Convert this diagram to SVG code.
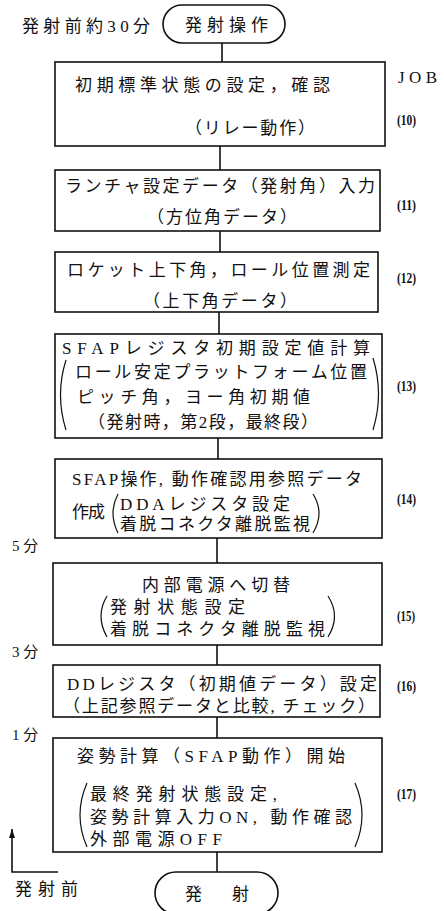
<svg xmlns="http://www.w3.org/2000/svg" width="444" height="911" viewBox="0 0 444 911">
<style>
.box{fill:#fff;stroke:#111;stroke-width:1.6}
.t{font-family:"Liberation Serif","Noto Sans CJK JP",serif;font-size:17px;fill:#111}
.s{font-family:"Liberation Serif","Noto Sans CJK JP",serif;font-size:15px;fill:#111}
.n{font-family:"Liberation Serif","Noto Sans CJK JP",serif;font-size:15px;font-weight:bold;fill:#111}
.p{fill:none;stroke:#111;stroke-width:1.2}
.c{fill:none;stroke:#111;stroke-width:1.6}
</style>
<defs>
<marker id="ah" markerWidth="10" markerHeight="10" refX="9" refY="3" orient="auto" markerUnits="userSpaceOnUse">
<path d="M0,0 L9,3 L0,6 Z" fill="#111"/>
</marker>
</defs>
<g id="connectors">
<line class="c" x1="222" y1="43" x2="222" y2="62"/>
<line class="c" x1="220" y1="146" x2="220" y2="170"/>
<line class="c" x1="220" y1="231" x2="220" y2="252"/>
<line class="c" x1="219" y1="312" x2="219" y2="334"/>
<line class="c" x1="218" y1="438" x2="218" y2="459"/>
<line class="c" x1="217" y1="538" x2="217" y2="563"/>
<line class="c" x1="217" y1="645" x2="217" y2="665"/>
<line class="c" x1="217" y1="717" x2="217" y2="738"/>
<line class="c" x1="217" y1="852" x2="217" y2="872"/>
<path class="c" d="M58,872 L12,872 L12,829" marker-end="url(#ah)"/>
</g>
<g id="labels">
<text class="t" x="22" y="32" textLength="128">発射前約30分</text>
<text class="t" x="398" y="83" textLength="39">JOB</text>
<text class="s" x="12" y="551">5 分</text>
<text class="s" x="12" y="657">3 分</text>
<text class="s" x="12" y="740">1 分</text>
<text class="t" x="15" y="895" textLength="63">発射前</text>
</g>
<g id="start">
<rect class="box" x="163" y="5" width="122" height="38" rx="19"/>
<text class="t" x="185" y="31" textLength="83">発射操作</text>
</g>
<g id="job10">
<rect class="box" x="55" y="62" width="330" height="84"/>
<text class="t" x="75" y="91" textLength="255">初期標準状態の設定，確認</text>
<text class="t" x="185" y="134" textLength="130">（リレー動作）</text>
<text class="n" x="397" y="125" textLength="19" lengthAdjust="spacingAndGlyphs">(10)</text>
</g>
<g id="job11">
<rect class="box" x="55" y="170" width="325" height="61"/>
<text class="t" x="65" y="192" textLength="310">ランチャ設定データ（発射角）入力</text>
<text class="t" x="147" y="223" textLength="150">（方位角データ）</text>
<text class="n" x="397" y="210" textLength="19" lengthAdjust="spacingAndGlyphs">(11)</text>
</g>
<g id="job12">
<rect class="box" x="55" y="252" width="323" height="60"/>
<text class="t" x="67" y="276" textLength="303">ロケット上下角，ロール位置測定</text>
<text class="t" x="143" y="307" textLength="154">（上下角データ）</text>
<text class="n" x="397" y="283" textLength="19" lengthAdjust="spacingAndGlyphs">(12)</text>
</g>
<g id="job13">
<rect class="box" x="55" y="334" width="327" height="104"/>
<text class="t" x="62" y="354" textLength="308">SFAPレジスタ初期設定値計算</text>
<path class="p" d="M66,360 Q55,395 66,430"/>
<text class="t" x="75" y="378" textLength="292">ロール安定プラットフォーム位置</text>
<path class="p" d="M373,358 Q384,394 373,430"/>
<text class="t" x="77" y="403" textLength="233">ピッチ角，ヨー角初期値</text>
<text class="t" x="88" y="428" textLength="230">（発射時，第2段，最終段）</text>
<text class="n" x="397" y="391" textLength="19" lengthAdjust="spacingAndGlyphs">(13)</text>
</g>
<g id="job14">
<rect class="box" x="55" y="459" width="327" height="79"/>
<text class="t" x="72" y="485" textLength="290">SFAP操作, 動作確認用参照データ</text>
<text class="t" x="72" y="518" textLength="33">作成</text>
<path class="p" d="M118,494 Q108,513 118,533"/>
<text class="t" x="120" y="510" textLength="170">DDAレジスタ設定</text>
<text class="t" x="120" y="530" textLength="190">着脱コネクタ離脱監視</text>
<path class="p" d="M313,494 Q325,513 313,533"/>
<text class="n" x="397" y="504" textLength="19" lengthAdjust="spacingAndGlyphs">(14)</text>
</g>
<g id="job15">
<rect class="box" x="53" y="563" width="329" height="82"/>
<text class="t" x="142" y="591" textLength="148">内部電源へ切替</text>
<path class="p" d="M107,596 Q95,616 107,637"/>
<text class="t" x="110" y="613" textLength="135">発射状態設定</text>
<text class="t" x="110" y="635" textLength="215">着脱コネクタ離脱監視</text>
<path class="p" d="M328,596 Q341,616 328,637"/>
<text class="n" x="397" y="621" textLength="18" lengthAdjust="spacingAndGlyphs">(15)</text>
</g>
<g id="job16">
<rect class="box" x="53" y="665" width="327" height="52"/>
<text class="t" x="67" y="690" textLength="310">DDレジスタ（初期値データ）設定</text>
<text class="t" x="63" y="712" textLength="312">（上記参照データと比較, チェック）</text>
<text class="n" x="397" y="691" textLength="19" lengthAdjust="spacingAndGlyphs">(16)</text>
</g>
<g id="job17">
<rect class="box" x="53" y="738" width="329" height="114"/>
<text class="t" x="77" y="762" textLength="268">姿勢計算（SFAP動作）開始</text>
<path class="p" d="M87,783 Q73,815 87,847"/>
<text class="t" x="90" y="800" textLength="187">最終発射状態設定,</text>
<text class="t" x="90" y="823" textLength="262">姿勢計算入力ON, 動作確認</text>
<text class="t" x="90" y="845" textLength="132">外部電源OFF</text>
<path class="p" d="M355,783 Q369,815 355,847"/>
<text class="n" x="397" y="799" textLength="19" lengthAdjust="spacingAndGlyphs">(17)</text>
</g>
<g id="end">
<rect class="box" x="155" y="872" width="123" height="42" rx="21"/>
<text class="t" x="185" y="900" textLength="64">発射</text>
</g>
</svg>
